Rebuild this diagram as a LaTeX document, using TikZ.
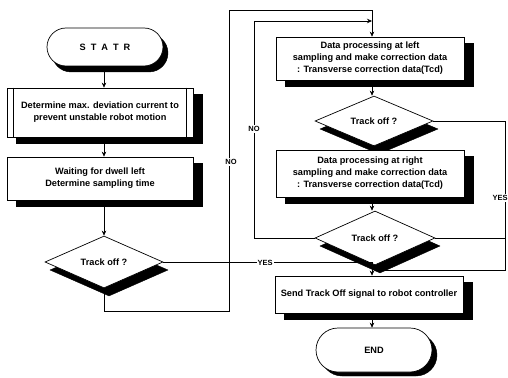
\documentclass[tikz,border=0pt]{standalone}
\usepackage{fontspec}
\setmainfont{Liberation Sans}
\usetikzlibrary{shapes.geometric,shapes.misc,arrows.meta}
\begin{document}
\begin{tikzpicture}[x=1pt,y=-1pt,
  every node/.style={font=\fontsize{9.2}{12}\selectfont\bfseries, align=center, inner sep=0pt},
  procbox/.style={draw, fill=white, line width=0.7pt, rectangle},
  termbox/.style={draw, fill=white, line width=0.7pt, rounded rectangle},
  decbox/.style={draw, fill=white, line width=0.7pt, diamond, aspect=2.3},
  shadowrect/.style={fill=black, draw=black, rectangle},
  shadowterm/.style={fill=black, draw=black, rounded rectangle},
  shadowdec/.style={fill=black, draw=black, diamond, aspect=2.3},
  arr/.style={draw, line width=0.6pt, -{Stealth[length=5pt,width=4.5pt]}},
  ln/.style={draw, line width=0.6pt},
  lbl/.style={fill=white, inner sep=1pt, font=\fontsize{7.5}{8}\selectfont\bfseries}]
\useasboundingbox (0,0) rectangle (508,377);

% drop shadows as black shapes offset right and down
\node[shadowterm, minimum width=116pt, minimum height=38pt] (s0) at (110,53) {};
\node[shadowrect, minimum width=186pt, minimum height=49pt] (s1) at (109,118.5) {};
\node[shadowrect, minimum width=186pt, minimum height=43pt] (s2) at (109,184.5) {};
\node[shadowdec, minimum width=118pt, minimum height=52pt] (s3) at (109,270) {};
\node[shadowrect, minimum width=188pt, minimum height=43pt] (s4) at (379,64.5) {};
\node[shadowdec, minimum width=118pt, minimum height=50pt] (s5) at (379,129) {};
\node[shadowrect, minimum width=188pt, minimum height=47pt] (s6) at (379,179.5) {};
\node[shadowdec, minimum width=120pt, minimum height=54pt] (s7) at (380,246) {};
\node[shadowrect, minimum width=188pt, minimum height=37pt] (s8) at (378,300.5) {};
\node[shadowterm, minimum width=116pt, minimum height=42pt] (s9) at (379,355) {};

% left column
\node[termbox, minimum width=116pt, minimum height=38pt] (start) at (105,47) {S\hspace{5pt}T\hspace{5pt}A\hspace{5pt}T\hspace{5pt}R};
\node[procbox, minimum width=186pt, minimum height=49pt] (b1) at (100,112.5) {Determine max. deviation current to\\prevent unstable robot motion};
\draw[line width=0.7pt] ([xshift=7pt]b1.north west) -- ([xshift=7pt]b1.south west);
\draw[line width=0.7pt] ([xshift=-7pt]b1.north east) -- ([xshift=-7pt]b1.south east);
\node[procbox, minimum width=186pt, minimum height=43pt] (b2) at (100,178.5) {Waiting for dwell left\\Determine sampling time};
\node[decbox, minimum width=118pt, minimum height=52pt] (d1) at (104,262) {Track off ?};

% right column
\node[procbox, minimum width=188pt, minimum height=43pt] (b3) at (370,58.5) {Data processing at left\\sampling and make correction data\\: Transverse correction data(Tcd)};
\node[decbox, minimum width=118pt, minimum height=50pt] (d2) at (374,121) {Track off ?};
\node[procbox, minimum width=188pt, minimum height=47pt] (b4) at (370,173.5) {Data processing at right\\sampling and make correction data\\: Transverse correction data(Tcd)};
\node[decbox, minimum width=120pt, minimum height=54pt] (d3) at (375,238) {Track off ?};
\node[procbox, minimum width=188pt, minimum height=37pt] (b5) at (369,294.5) {Send Track Off signal to robot controller};
\node[termbox, minimum width=116pt, minimum height=44pt] (end) at (374,350) {END};

% coordinates for routing
\coordinate (n1) at (229,311);
\coordinate (n2) at (372,10);
\coordinate (n3) at (254,21);
\coordinate (j) at (372,263);
\coordinate (r) at (505,270);
\coordinate (rj) at (375,270);

% main flow
\draw[arr] (start.south -| 104,0) -- (104,0 |- b1.north);
\draw[arr] (104,0 |- b1.south) -- (104,0 |- b2.north);
\draw[arr] (104,0 |- b2.south) -- (d1.north);
\draw[arr] (372,0 |- b3.south) -- (372,0 |- d2.north);
\draw[arr] (372,0 |- d2.south) -- (372,0 |- b4.north);
\draw[arr] (372,0 |- b4.south) -- (372,0 |- d3.north);
\draw[arr] (372,0 |- b5.south) -- (372,0 |- end.north);

% d1 NO loop
\draw[arr] (d1.south) |- (n1) -- (n1 |- n2) -- (n2) -- (n2 |- b3.north);
\node[lbl] (no1) at (231,162) {NO};
% d1 YES
\draw[arr] (d1.east) -- (d1.east -| j) -- (j |- b5.north);
\node[lbl] (yes1) at (265,263) {YES};
% d3 NO loop
\draw[arr] (d3.west) -| (n3) -- (n2 |- n3);
\node[lbl] (no2) at (254,129) {NO};
% d2 / d3 YES
\draw[arr] (d2.east) -| (r) -- (rj);
\draw[ln] (d3.east) -- (d3.east -| r);
\node[lbl] (yes2) at (500,198) {YES};
\end{tikzpicture}
\end{document}
